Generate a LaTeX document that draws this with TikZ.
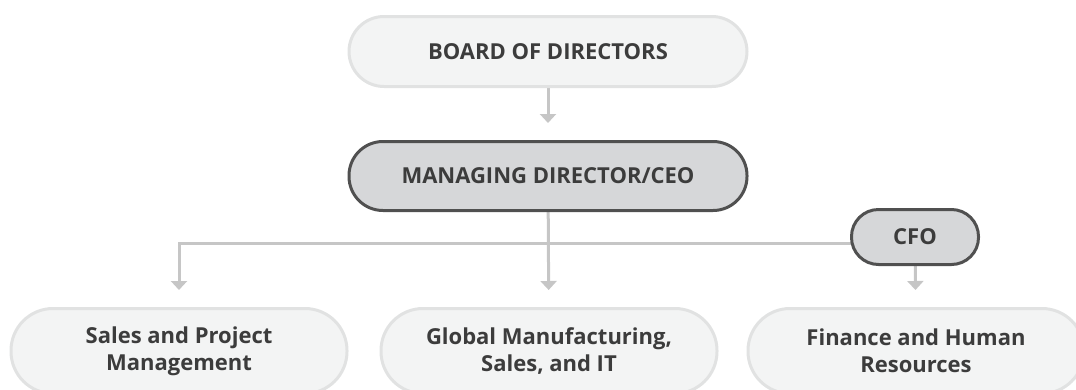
\documentclass[tikz,border=0pt]{standalone}
\usepackage{fontspec}
\setmainfont{Open Sans}
\usetikzlibrary{arrows.meta,backgrounds}
\definecolor{unitfill}{HTML}{F3F4F4}
\definecolor{unitline}{HTML}{E1E2E2}
\definecolor{headfill}{HTML}{D6D7D9}
\definecolor{headline}{HTML}{505050}
\definecolor{linkgray}{HTML}{C6C6C6}
\definecolor{textgray}{HTML}{3C3C3C}

\begin{document}
\begin{tikzpicture}[x=1pt,y=-1pt,
	unit/.style={draw=unitline,fill=unitfill,line width=3pt,text=textgray,
		font=\bfseries\fontsize{22}{27}\selectfont,align=center,inner sep=0pt},
	head/.style={unit,draw=headline,fill=headfill},
	wire/.style={draw=linkgray,line width=3pt},
	link/.style={wire,-{Triangle[width=16pt,length=9pt]},shorten >=17pt}]
	\useasboundingbox (0,0) rectangle (1076,389);
	\clip (0,0) rectangle (1076,389);
	% board and ceo
	\node[unit,minimum width=398pt,minimum height=70pt,rounded corners=35pt] (board) at (548,51.5) {BOARD OF DIRECTORS};
	\node[head,minimum width=398pt,minimum height=69pt,rounded corners=34pt] (ceo) at (548,176) {MANAGING DIRECTOR/CEO};
	\node[head,minimum width=127pt,minimum height=55pt,rounded corners=27pt] (cfo) at (915,237) {CFO};
	% departments
	\node[unit,minimum width=336pt,minimum height=85pt,rounded corners=42pt] (sales) at (179,351) {Sales and Project\\Management};
	\node[unit,minimum width=336pt,minimum height=85pt,rounded corners=42pt] (global) at (549,351) {Global Manufacturing,\\Sales, and IT};
	\node[unit,minimum width=336pt,minimum height=85pt,rounded corners=42pt] (finance) at (916,351) {Finance and Human\\Resources};
	% links
	\begin{scope}[on background layer]
	\coordinate (split) at (548,243);
	\draw[link] (board) -- (ceo);
	\draw[link] (ceo) -- (global);
	\draw[link] (split -| cfo.center) -| (sales.north);
	\draw[link] (cfo) -- (finance);
	\end{scope}
\end{tikzpicture}
\end{document}
